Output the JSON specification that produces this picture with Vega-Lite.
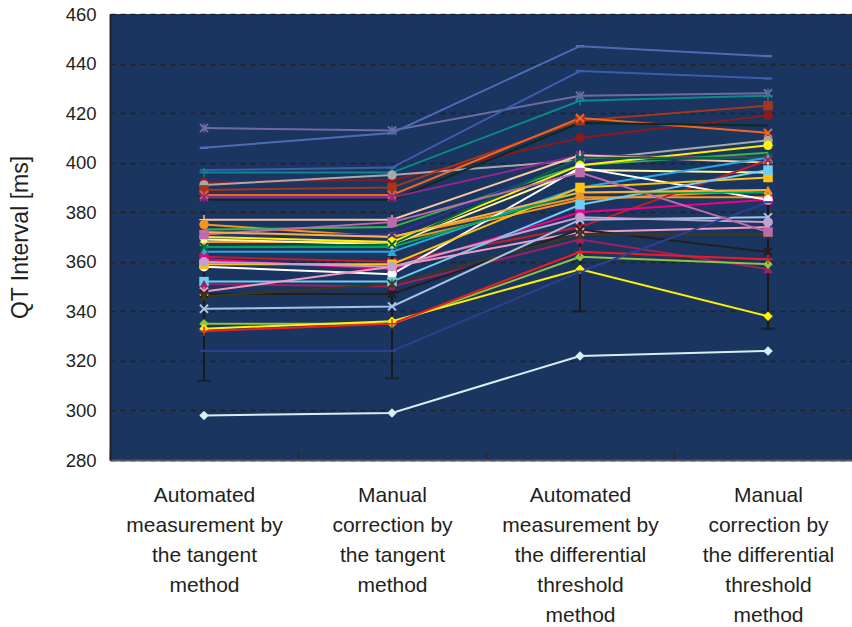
{
  "$schema": "https://vega.github.io/schema/vega-lite/v6.json",
  "width": 742,
  "height": 446,
  "autosize": {"type": "none"},
  "padding": {"left": 110, "top": 14, "right": 0, "bottom": 167},
  "background": "white",
  "config": {"view": {"fill": "#1a3560", "stroke": null}, "font": "Liberation Sans"},
  "datasets": {
    "err": [
      {"cat": "T-auto", "lo": 312, "hi": 362},
      {"cat": "T-manual", "lo": 313, "hi": 365},
      {"cat": "DT-auto", "lo": 340, "hi": 390},
      {"cat": "DT-manual", "lo": 333, "hi": 385}
    ],
    "qt": [
      {"s":"P01","cat":"T-auto","v":414},{"s":"P01","cat":"T-manual","v":413},{"s":"P01","cat":"DT-auto","v":427},{"s":"P01","cat":"DT-manual","v":428},
      {"s":"P02","cat":"T-auto","v":406},{"s":"P02","cat":"T-manual","v":412},{"s":"P02","cat":"DT-auto","v":447},{"s":"P02","cat":"DT-manual","v":443},
      {"s":"P03","cat":"T-auto","v":397},{"s":"P03","cat":"T-manual","v":398},{"s":"P03","cat":"DT-auto","v":437},{"s":"P03","cat":"DT-manual","v":434},
      {"s":"P04","cat":"T-auto","v":396},{"s":"P04","cat":"T-manual","v":396},{"s":"P04","cat":"DT-auto","v":425},{"s":"P04","cat":"DT-manual","v":427},
      {"s":"P05","cat":"T-auto","v":392},{"s":"P05","cat":"T-manual","v":393},{"s":"P05","cat":"DT-auto","v":410},{"s":"P05","cat":"DT-manual","v":419},
      {"s":"P06","cat":"T-auto","v":391},{"s":"P06","cat":"T-manual","v":395},{"s":"P06","cat":"DT-auto","v":401},{"s":"P06","cat":"DT-manual","v":409},
      {"s":"P07","cat":"T-auto","v":389},{"s":"P07","cat":"T-manual","v":390},{"s":"P07","cat":"DT-auto","v":417},{"s":"P07","cat":"DT-manual","v":423},
      {"s":"P08","cat":"T-auto","v":387},{"s":"P08","cat":"T-manual","v":387},{"s":"P08","cat":"DT-auto","v":418},{"s":"P08","cat":"DT-manual","v":412},
      {"s":"P09","cat":"T-auto","v":385},{"s":"P09","cat":"T-manual","v":385},{"s":"P09","cat":"DT-auto","v":416},{"s":"P09","cat":"DT-manual","v":415},
      {"s":"P10","cat":"T-auto","v":386},{"s":"P10","cat":"T-manual","v":386},{"s":"P10","cat":"DT-auto","v":403},{"s":"P10","cat":"DT-manual","v":402},
      {"s":"P11","cat":"T-auto","v":377},{"s":"P11","cat":"T-manual","v":377},{"s":"P11","cat":"DT-auto","v":403},{"s":"P11","cat":"DT-manual","v":400},
      {"s":"P12","cat":"T-auto","v":375},{"s":"P12","cat":"T-manual","v":370},{"s":"P12","cat":"DT-auto","v":386},{"s":"P12","cat":"DT-manual","v":386},
      {"s":"P13","cat":"T-auto","v":368},{"s":"P13","cat":"T-manual","v":368},{"s":"P13","cat":"DT-auto","v":385},{"s":"P13","cat":"DT-manual","v":389},
      {"s":"P14","cat":"T-auto","v":373},{"s":"P14","cat":"T-manual","v":374},{"s":"P14","cat":"DT-auto","v":399},{"s":"P14","cat":"DT-manual","v":404},
      {"s":"P15","cat":"T-auto","v":371},{"s":"P15","cat":"T-manual","v":371},{"s":"P15","cat":"DT-auto","v":401},{"s":"P15","cat":"DT-manual","v":402},
      {"s":"P16","cat":"T-auto","v":370},{"s":"P16","cat":"T-manual","v":368},{"s":"P16","cat":"DT-auto","v":399},{"s":"P16","cat":"DT-manual","v":407},
      {"s":"P17","cat":"T-auto","v":369},{"s":"P17","cat":"T-manual","v":367},{"s":"P17","cat":"DT-auto","v":397},{"s":"P17","cat":"DT-manual","v":396},
      {"s":"P18","cat":"T-auto","v":366},{"s":"P18","cat":"T-manual","v":367},{"s":"P18","cat":"DT-auto","v":402},{"s":"P18","cat":"DT-manual","v":402},
      {"s":"P19","cat":"T-auto","v":364},{"s":"P19","cat":"T-manual","v":364},{"s":"P19","cat":"DT-auto","v":390},{"s":"P19","cat":"DT-manual","v":402},
      {"s":"P20","cat":"T-auto","v":362},{"s":"P20","cat":"T-manual","v":360},{"s":"P20","cat":"DT-auto","v":374},{"s":"P20","cat":"DT-manual","v":401},
      {"s":"P21","cat":"T-auto","v":361},{"s":"P21","cat":"T-manual","v":357},{"s":"P21","cat":"DT-auto","v":380},{"s":"P21","cat":"DT-manual","v":385},
      {"s":"P22","cat":"T-auto","v":358},{"s":"P22","cat":"T-manual","v":355},{"s":"P22","cat":"DT-auto","v":398},{"s":"P22","cat":"DT-manual","v":385},
      {"s":"P23","cat":"T-auto","v":359},{"s":"P23","cat":"T-manual","v":359},{"s":"P23","cat":"DT-auto","v":390},{"s":"P23","cat":"DT-manual","v":394},
      {"s":"P24","cat":"T-auto","v":352},{"s":"P24","cat":"T-manual","v":352},{"s":"P24","cat":"DT-auto","v":383},{"s":"P24","cat":"DT-manual","v":397},
      {"s":"P25","cat":"T-auto","v":351},{"s":"P25","cat":"T-manual","v":350},{"s":"P25","cat":"DT-auto","v":369},{"s":"P25","cat":"DT-manual","v":357},
      {"s":"P26","cat":"T-auto","v":348},{"s":"P26","cat":"T-manual","v":358},{"s":"P26","cat":"DT-auto","v":372},{"s":"P26","cat":"DT-manual","v":374},
      {"s":"P27","cat":"T-auto","v":347},{"s":"P27","cat":"T-manual","v":347},{"s":"P27","cat":"DT-auto","v":373},{"s":"P27","cat":"DT-manual","v":364},
      {"s":"P28","cat":"T-auto","v":346},{"s":"P28","cat":"T-manual","v":351},{"s":"P28","cat":"DT-auto","v":371},{"s":"P28","cat":"DT-manual","v":371},
      {"s":"P29","cat":"T-auto","v":341},{"s":"P29","cat":"T-manual","v":342},{"s":"P29","cat":"DT-auto","v":377},{"s":"P29","cat":"DT-manual","v":378},
      {"s":"P30","cat":"T-auto","v":360},{"s":"P30","cat":"T-manual","v":358},{"s":"P30","cat":"DT-auto","v":378},{"s":"P30","cat":"DT-manual","v":376},
      {"s":"P31","cat":"T-auto","v":335},{"s":"P31","cat":"T-manual","v":335},{"s":"P31","cat":"DT-auto","v":362},{"s":"P31","cat":"DT-manual","v":359},
      {"s":"P32","cat":"T-auto","v":333},{"s":"P32","cat":"T-manual","v":336},{"s":"P32","cat":"DT-auto","v":357},{"s":"P32","cat":"DT-manual","v":338},
      {"s":"P33","cat":"T-auto","v":332},{"s":"P33","cat":"T-manual","v":335},{"s":"P33","cat":"DT-auto","v":364},{"s":"P33","cat":"DT-manual","v":361},
      {"s":"P34","cat":"T-auto","v":324},{"s":"P34","cat":"T-manual","v":324},{"s":"P34","cat":"DT-auto","v":356},{"s":"P34","cat":"DT-manual","v":384},
      {"s":"P35","cat":"T-auto","v":298},{"s":"P35","cat":"T-manual","v":299},{"s":"P35","cat":"DT-auto","v":322},{"s":"P35","cat":"DT-manual","v":324},
      {"s":"P36","cat":"T-auto","v":371},{"s":"P36","cat":"T-manual","v":376},{"s":"P36","cat":"DT-auto","v":396},{"s":"P36","cat":"DT-manual","v":372},
      {"s":"P37","cat":"T-auto","v":366},{"s":"P37","cat":"T-manual","v":366},{"s":"P37","cat":"DT-auto","v":388},{"s":"P37","cat":"DT-manual","v":388},
      {"s":"P38","cat":"T-auto","v":372},{"s":"P38","cat":"T-manual","v":370},{"s":"P38","cat":"DT-auto","v":388},{"s":"P38","cat":"DT-manual","v":389}
    ]
  },
  "layer": [
    {
      "data": {"name": "err"},
      "mark": {"type": "rule", "color": "#1a1a1a", "strokeWidth": 2},
      "encoding": {
        "x": {
          "field": "cat", "type": "nominal", "sort": null, "bandPosition": 0.5,
          "scale": {"type": "band", "domain": ["T-auto", "T-manual", "DT-auto", "DT-manual"], "range": [0, 752], "paddingInner": 0, "paddingOuter": 0},
          "axis": {
            "title": null, "labelAngle": 0, "tickBand": "extent", "grid": false,
            "domain": true, "domainColor": "#5a5a5a", "domainWidth": 2,
            "ticks": true, "tickColor": "#2a2a2a", "tickSize": -9, "tickWidth": 1.5,
            "labelFontSize": 21, "labelLineHeight": 30, "labelColor": "#231f20", "labelBaseline": "top",
            "labelPadding": 33, "labelLimit": 0,
            "labelExpr": "datum.value == 'T-auto' ? ['Automated', 'measurement by', 'the tangent', 'method'] : datum.value == 'T-manual' ? ['Manual', 'correction by', 'the tangent', 'method'] : datum.value == 'DT-auto' ? ['Automated', 'measurement by', 'the differential', 'threshold', 'method'] : datum.value == 'DT-manual' ? ['Manual', 'correction by', 'the differential', 'threshold', 'method'] : ''"
          }
        },
        "y": {
          "field": "lo", "type": "quantitative",
          "scale": {"domain": [280, 460], "nice": false, "zero": false},
          "axis": {
            "values": [280, 300, 320, 340, 360, 380, 400, 420, 440, 460],
            "grid": true, "gridDash": [5, 5], "gridColor": "#222222", "gridWidth": 1.3,
            "domain": true, "domainColor": "#222222", "domainWidth": 2, "ticks": false,
            "labelFontSize": 18.5, "labelColor": "#231f20", "labelPadding": 14,
            "title": "QT Interval [ms]", "titleFontSize": 23, "titleFontWeight": "normal", "titleColor": "#231f20",
            "titleX": -90, "titleY": 223, "titleAngle": -90, "titleAlign": "center", "titleBaseline": "middle"
          }
        },
        "y2": {"field": "hi"}
      }
    },
    {
      "data": {"name": "err"},
      "mark": {"type": "tick", "color": "#1a1a1a", "thickness": 2, "size": 14},
      "encoding": {
        "x": {"field": "cat", "type": "nominal", "sort": null, "bandPosition": 0.5},
        "y": {"field": "lo", "type": "quantitative"}
      }
    },
    {
      "data": {"name": "qt"},
      "mark": {"type": "line", "strokeWidth": 2},
      "encoding": {
        "x": {"field": "cat", "type": "nominal", "sort": null, "bandPosition": 0.5},
        "y": {"field": "v", "type": "quantitative"},
        "order": {"value": null},
        "color": {
          "field": "s", "type": "nominal", "legend": null,
          "scale": {
            "domain": ["P01","P02","P03","P04","P05","P06","P07","P08","P09","P10","P11","P12","P13","P14","P15","P16","P17","P18","P19","P20","P21","P22","P23","P24","P25","P26","P27","P28","P29","P30","P31","P32","P33","P34","P35","P36","P37","P38"],
            "range": ["#6e6aa3","#4d6cb5","#3d5cae","#0a8a8a","#8b1a1a","#a7a9ac","#a4361b","#f26522","#0f2a1c","#92278f","#f6c7a3","#f7941d","#f7941d","#39b54a","#2e3192","#fff200","#fff799","#00693e","#27aae1","#be1e2d","#ec008c","#ffffff","#ffc20e","#6dcff6","#9e1f63","#f49ac1","#231f20","#3c3a1a","#a3c4e6","#bfa2d0","#8dc63f","#fff200","#ed1c24","#2e3f90","#d7eef5","#c06aae","#00a651","#fbb040"]
          }
        }
      }
    },
    {
      "data": {"name": "qt"},
      "mark": {"type": "point", "filled": true, "opacity": 1, "size": 90},
      "encoding": {
        "x": {"field": "cat", "type": "nominal", "sort": null, "bandPosition": 0.5},
        "y": {"field": "v", "type": "quantitative"},
        "color": {"field": "s", "type": "nominal", "legend": null},
        "shape": {
          "field": "s", "type": "nominal", "legend": null,
          "scale": {
            "domain": ["P01","P02","P03","P04","P05","P06","P07","P08","P09","P10","P11","P12","P13","P14","P15","P16","P17","P18","P19","P20","P21","P22","P23","P24","P25","P26","P27","P28","P29","P30","P31","P32","P33","P34","P35","P36","P37","P38"],
            "range": [
              "M-1,-0.7L-0.7,-1L0,-0.3L0.7,-1L1,-0.7L0.3,0L1,0.7L0.7,1L0,0.3L-0.7,1L-1,0.7L-0.3,0ZM-0.13,-1H0.13V1H-0.13Z",
              "M-0.9,-0.25H0.9V0.25H-0.9Z",
              "M-0.9,-0.25H0.9V0.25H-0.9Z",
              "M-0.15,-1H0.15V-0.15H1V0.15H0.15V1H-0.15V0.15H-1V-0.15H-0.15Z",
              "circle", "circle", "square",
              "M-1,-0.7L-0.7,-1L0,-0.3L0.7,-1L1,-0.7L0.3,0L1,0.7L0.7,1L0,0.3L-0.7,1L-1,0.7L-0.3,0Z",
              "M-0.1,-0.1H0.1V0.1H-0.1Z",
              "M-1,-0.7L-0.7,-1L0,-0.3L0.7,-1L1,-0.7L0.3,0L1,0.7L0.7,1L0,0.3L-0.7,1L-1,0.7L-0.3,0ZM-0.13,-1H0.13V1H-0.13Z",
              "M-0.15,-1H0.15V-0.15H1V0.15H0.15V1H-0.15V0.15H-1V-0.15H-0.15Z",
              "circle", "triangle-up",
              "M-0.1,-0.1H0.1V0.1H-0.1Z",
              "M-1,-0.7L-0.7,-1L0,-0.3L0.7,-1L1,-0.7L0.3,0L1,0.7L0.7,1L0,0.3L-0.7,1L-1,0.7L-0.3,0Z",
              "circle", "triangle-up",
              "M-1,-0.7L-0.7,-1L0,-0.3L0.7,-1L1,-0.7L0.3,0L1,0.7L0.7,1L0,0.3L-0.7,1L-1,0.7L-0.3,0Z",
              "triangle-up",
              "M-1,-0.7L-0.7,-1L0,-0.3L0.7,-1L1,-0.7L0.3,0L1,0.7L0.7,1L0,0.3L-0.7,1L-1,0.7L-0.3,0Z",
              "square", "circle", "square", "square", "triangle-up",
              "M-1,-0.7L-0.7,-1L0,-0.3L0.7,-1L1,-0.7L0.3,0L1,0.7L0.7,1L0,0.3L-0.7,1L-1,0.7L-0.3,0ZM-0.13,-1H0.13V1H-0.13Z",
              "M-1,-0.7L-0.7,-1L0,-0.3L0.7,-1L1,-0.7L0.3,0L1,0.7L0.7,1L0,0.3L-0.7,1L-1,0.7L-0.3,0Z",
              "M-1,-0.7L-0.7,-1L0,-0.3L0.7,-1L1,-0.7L0.3,0L1,0.7L0.7,1L0,0.3L-0.7,1L-1,0.7L-0.3,0ZM-0.13,-1H0.13V1H-0.13Z",
              "M-1,-0.7L-0.7,-1L0,-0.3L0.7,-1L1,-0.7L0.3,0L1,0.7L0.7,1L0,0.3L-0.7,1L-1,0.7L-0.3,0Z",
              "circle", "diamond", "diamond",
              "M-0.15,-1H0.15V-0.15H1V0.15H0.15V1H-0.15V0.15H-1V-0.15H-0.15Z",
              "M-0.9,-0.25H0.9V0.25H-0.9Z",
              "diamond", "square",
              "M-0.1,-0.1H0.1V0.1H-0.1Z",
              "M-0.1,-0.1H0.1V0.1H-0.1Z"
            ]
          }
        }
      }
    }
  ]
}
